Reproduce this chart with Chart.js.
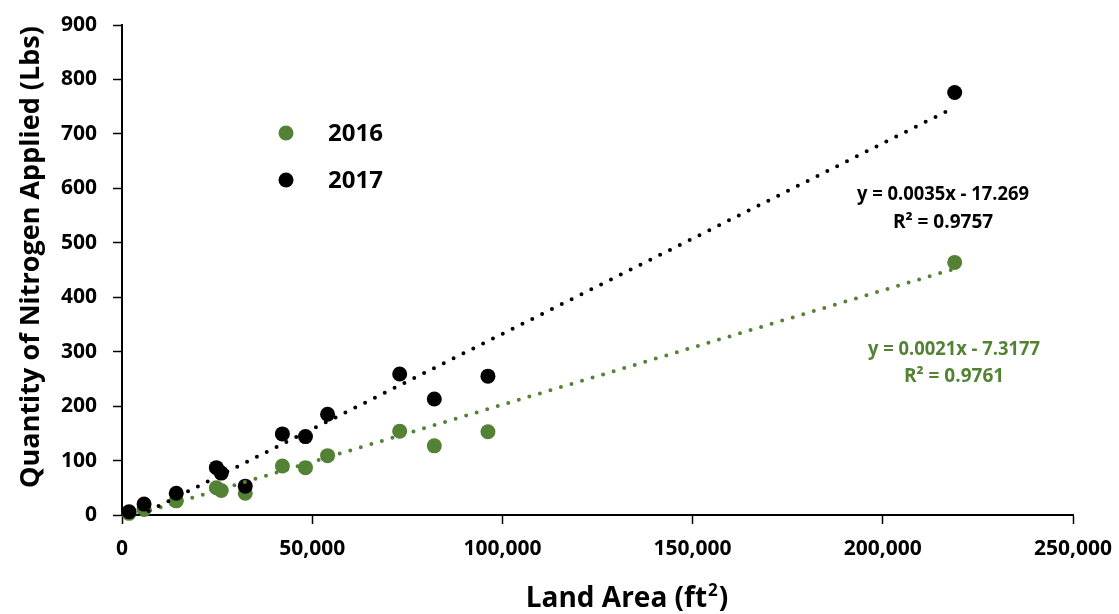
<!DOCTYPE html>
<html>
<head>
<meta charset="utf-8">
<script src="https://cdn.jsdelivr.net/npm/chart.js@4"></script>
<style>
  html, body { margin: 0; padding: 0; background: #ffffff; }
  #wrap { width: 1119px; height: 614px; }
</style>
</head>
<body>
<div id="wrap"><canvas id="c" width="1119" height="614"></canvas></div>
<script>
// ---- Data ----
const landArea      = [1850, 5800, 14260, 24800, 26100, 32400, 42160, 48230, 54040, 73000, 82100, 96200, 218900];
const nitrogen2016  = [3, 10, 26, 50, 45, 40, 90, 87, 109, 154, 127, 153, 464];
const nitrogen2017  = [6, 20, 40, 87, 77, 53, 149, 144, 185, 259, 213, 255, 776];
const seriesLabels  = ['2016', '2017'];
const seriesColors  = ['#548235', '#000000'];
// Trendline equations as printed on the chart
const trendSlopes     = [0.0021, 0.0035];
const trendIntercepts = [-7.3177, -17.269];
const trendEquations  = ['y = 0.0021x - 7.3177', 'y = 0.0035x - 17.269'];
const trendR2Labels   = ['R² = 0.9761', 'R² = 0.9757'];
const xTickValues = [0, 50000, 100000, 150000, 200000, 250000];
const yTickValues = [0, 100, 200, 300, 400, 500, 600, 700, 800, 900];
const xTitleMain = 'Land Area (ft';
const xTitleSup  = '2';
const xTitleEnd  = ')';
const yTitle = 'Quantity of Nitrogen Applied (Lbs)';

const FONT = "'Open Sans', 'Liberation Sans', Arial, sans-serif";

function toPoints(xs, ys) { return xs.map((x, i) => ({ x: x, y: ys[i] })); }
function trendPoints(k) {
  const xmin = Math.min(...landArea), xmax = Math.max(...landArea);
  return [xmin, xmax].map(x => ({ x: x, y: trendSlopes[k] * x + trendIntercepts[k] }));
}

const seriesValues = [nitrogen2016, nitrogen2017];

const datasets = [];
[1, 0].forEach((k, idx) => {
  datasets.push({
    label: seriesLabels[k] + ' trend',
    data: trendPoints(k),
    showLine: true,
    borderColor: seriesColors[k],
    borderWidth: 4,
    borderDash: [0, 11],
    borderCapStyle: 'round',
    pointRadius: 0,
    pointHoverRadius: 0,
    fill: false,
    clip: 0,
    order: idx
  });
});
[1, 0].forEach((k, idx) => {
  datasets.push({
    label: seriesLabels[k],
    data: toPoints(landArea, seriesValues[k]),
    showLine: false,
    pointRadius: 7.5,
    pointHoverRadius: 7.5,
    pointBackgroundColor: seriesColors[k],
    pointBorderWidth: 0,
    borderColor: seriesColors[k],
    clip: false,
    order: 2 + idx
  });
});

const overlay = {
  id: 'overlay',
  afterDraw(chart) {
    const ctx = chart.ctx;
    ctx.save();
    // Legend
    const legendPos = [{ mx: 286, ty: 133 }, { mx: 286, ty: 180 }];
    [0, 1].forEach(k => {
      const p = legendPos[k];
      ctx.fillStyle = seriesColors[k];
      ctx.beginPath();
      ctx.arc(p.mx, p.ty, 7.5, 0, Math.PI * 2);
      ctx.fill();
      ctx.fillStyle = '#000000';
      ctx.font = 'bold 24px ' + FONT;
      ctx.textAlign = 'left';
      ctx.textBaseline = 'middle';
      ctx.fillText(seriesLabels[k], 328, p.ty + 1);
    });
    // Trendline equations
    const eqPos = [{ cx: 954, y1: 350, y2: 377 }, { cx: 943, y1: 195, y2: 223 }];
    [0, 1].forEach(k => {
      const p = eqPos[k];
      ctx.fillStyle = seriesColors[k];
      ctx.font = 'bold 19px ' + FONT;
      ctx.textAlign = 'center';
      ctx.textBaseline = 'middle';
      ctx.fillText(trendEquations[k], p.cx, p.y1, 172);
      ctx.fillText(trendR2Labels[k], p.cx, p.y2);
    });
    // X axis title with superscript
    ctx.fillStyle = '#000000';
    ctx.textBaseline = 'alphabetic';
    ctx.textAlign = 'left';
    const mainFont = 'bold 28px ' + FONT, supFont = 'bold 17px ' + FONT;
    ctx.font = mainFont; const w1 = ctx.measureText(xTitleMain).width; const w3 = ctx.measureText(xTitleEnd).width;
    ctx.font = supFont; const w2 = ctx.measureText(xTitleSup).width;
    let x0 = 626 - (w1 + w2 + w3) / 2;
    const base = 607;
    ctx.font = mainFont; ctx.fillText(xTitleMain, x0, base);
    ctx.font = supFont; ctx.fillText(xTitleSup, x0 + w1 + 1, base - 11);
    ctx.font = mainFont; ctx.fillText(xTitleEnd, x0 + w1 + w2 + 2, base);
    // Y axis title
    ctx.translate(31, 257);
    ctx.rotate(-Math.PI / 2);
    ctx.textAlign = 'center';
    ctx.textBaseline = 'middle';
    ctx.font = 'bold 27px ' + FONT;
    ctx.fillText(yTitle, 0, 0, 482);
    ctx.restore();
  }
};

const tickFont = { family: FONT, size: 21, weight: 'bold' };

new Chart(document.getElementById('c'), {
  type: 'scatter',
  data: { datasets: datasets },
  options: {
    responsive: false,
    animation: false,
    devicePixelRatio: 1,
    layout: { padding: { top: 25, right: 46, left: 0, bottom: 0 } },
    plugins: {
      legend: { display: false },
      tooltip: { enabled: false }
    },
    events: [],
    scales: {
      x: {
        type: 'linear',
        min: xTickValues[0],
        max: xTickValues[xTickValues.length - 1],
        afterBuildTicks(s) { s.ticks = xTickValues.map(v => ({ value: v })); },
        ticks: {
          font: tickFont,
          color: '#000000',
          padding: 12,
          maxRotation: 0,
          callback: v => Number(v).toLocaleString('en-US')
        },
        grid: {
          drawOnChartArea: false,
          drawTicks: true,
          tickLength: 9,
          tickColor: '#000000',
          tickWidth: 1.5
        },
        border: { color: '#000000', width: 2 },
        title: { display: false },
        afterFit(s) { s.height = 99; s.paddingLeft = 0; s.paddingRight = 0; }
      },
      y: {
        type: 'linear',
        min: yTickValues[0],
        max: yTickValues[yTickValues.length - 1],
        afterBuildTicks(s) { s.ticks = yTickValues.map(v => ({ value: v })); },
        ticks: {
          font: tickFont,
          color: '#000000',
          padding: 16
        },
        grid: {
          drawOnChartArea: false,
          drawTicks: true,
          tickLength: 9,
          tickColor: '#000000',
          tickWidth: 1.5
        },
        border: { color: '#000000', width: 2 },
        title: { display: false },
        afterFit(s) { s.width = 122; s.paddingTop = 0; s.paddingBottom = 0; }
      }
    }
  },
  plugins: [overlay]
});
</script>
</body>
</html>
